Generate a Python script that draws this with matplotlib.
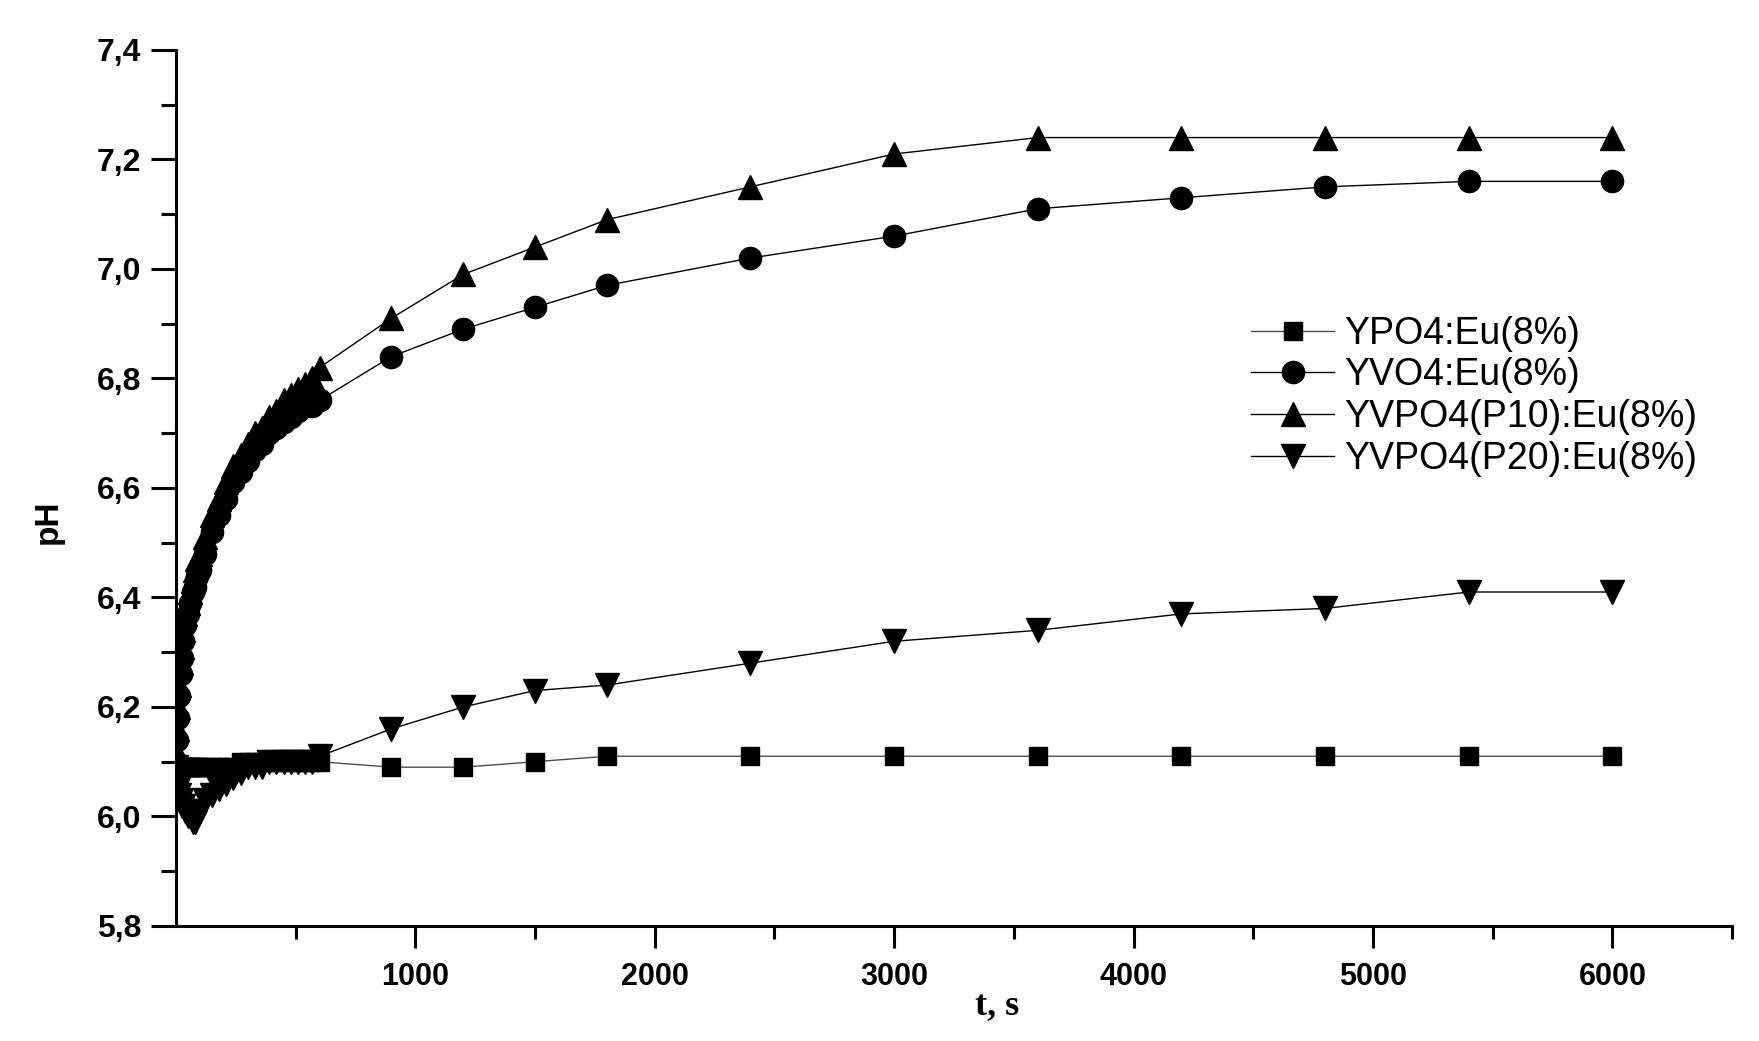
import numpy as np
import matplotlib
matplotlib.use('Agg')
import matplotlib.pyplot as plt
from matplotlib.ticker import MultipleLocator, FixedLocator, FuncFormatter

# time, s
t = [0, 5, 10, 15, 20, 25, 30, 40, 50, 60, 70, 80, 90, 100, 120, 150, 180,
     210, 240, 270, 300, 330, 360, 390, 420, 450, 480, 510, 540, 570, 600,
     900, 1200, 1500, 1800, 2400, 3000, 3600, 4200, 4800, 5400, 6000]

# pH values
ph_ypo4 = [6.08, 6.09, 6.09, 6.09, 6.09, 6.09, 6.09, 6.09, 6.09, 6.09, 6.09,
           6.09, 6.09, 6.09, 6.09, 6.09, 6.09, 6.09, 6.09, 6.10, 6.10, 6.10,
           6.10, 6.10, 6.10, 6.10, 6.10, 6.10, 6.10, 6.10, 6.10,
           6.09, 6.09, 6.10, 6.11, 6.11, 6.11, 6.11, 6.11, 6.11, 6.11, 6.11]
ph_yvo4 = [6.10, 6.14, 6.18, 6.22, 6.26, 6.29, 6.32, 6.35, 6.37, 6.39, 6.41,
           6.42, 6.44, 6.45, 6.48, 6.52, 6.55, 6.58, 6.61, 6.63, 6.65, 6.67,
           6.68, 6.70, 6.71, 6.72, 6.73, 6.74, 6.75, 6.75, 6.76,
           6.84, 6.89, 6.93, 6.97, 7.02, 7.06, 7.11, 7.13, 7.15, 7.16, 7.16]
ph_p10 = [6.12, 6.16, 6.20, 6.24, 6.28, 6.31, 6.34, 6.37, 6.39, 6.41, 6.43,
          6.45, 6.47, 6.48, 6.51, 6.55, 6.58, 6.61, 6.64, 6.66, 6.68, 6.70,
          6.71, 6.73, 6.74, 6.76, 6.77, 6.78, 6.79, 6.80, 6.82,
          6.91, 6.99, 7.04, 7.09, 7.15, 7.21, 7.24, 7.24, 7.24, 7.24, 7.24]
ph_p20 = [6.09, 6.07, 6.05, 6.04, 6.03, 6.02, 6.02, 6.01, 6.00, 6.00, 5.99,
          5.99, 6.00, 6.01, 6.03, 6.04, 6.05, 6.06, 6.07, 6.08, 6.09, 6.09,
          6.09, 6.10, 6.10, 6.10, 6.10, 6.10, 6.10, 6.10, 6.11,
          6.16, 6.20, 6.23, 6.24, 6.28, 6.32, 6.34, 6.37, 6.38, 6.41, 6.41]

labels = ['YPO4:Eu(8%)', 'YVO4:Eu(8%)', 'YVPO4(P10):Eu(8%)', 'YVPO4(P20):Eu(8%)']

fig = plt.figure(figsize=(17.59, 10.41), dpi=100)
ax = fig.add_axes([0.1, 0.1105, 0.8847, 0.8415])

ax.plot(t, ph_ypo4, color='0.3', lw=1.0, marker='s', ms=13, mfc='k', mec='k', label=labels[0])
ax.plot(t, ph_yvo4, color='k', lw=1.0, marker='o', ms=16, mfc='k', mec='k', label=labels[1])
ax.plot(t, ph_p10, color='k', lw=1.0, marker='^', ms=17, mfc='k', mec='k', label=labels[2])
ax.plot(t, ph_p20, color='k', lw=1.0, marker='v', ms=17, mfc='k', mec='k', label=labels[3])

ax.set_xlim(0, 6500)
ax.set_ylim(5.8, 7.4)

ax.spines['top'].set_visible(False)
ax.spines['right'].set_visible(False)
ax.spines['left'].set_linewidth(2.2)
ax.spines['bottom'].set_linewidth(2.2)

ax.xaxis.set_major_locator(FixedLocator([1000, 2000, 3000, 4000, 5000, 6000]))
ax.xaxis.set_minor_locator(FixedLocator([500, 1500, 2500, 3500, 4500, 5500, 6500]))
ax.yaxis.set_major_locator(MultipleLocator(0.2))
ax.yaxis.set_minor_locator(MultipleLocator(0.1))
ax.yaxis.set_major_formatter(FuncFormatter(lambda v, p: f'{v:.1f}'.replace('.', ',')))

ax.tick_params(axis='x', which='major', direction='out', length=16, width=2.2, pad=10)
ax.tick_params(axis='x', which='minor', direction='out', length=9, width=2.2)
ax.tick_params(axis='y', which='major', direction='out', length=18, width=2.2, pad=7)
ax.tick_params(axis='y', which='minor', direction='out', length=11, width=2.2)

for lab in ax.get_xticklabels():
    lab.set_fontfamily('Liberation Sans')
    lab.set_fontweight('bold')
    lab.set_fontsize(22)
for lab in ax.get_yticklabels():
    lab.set_fontfamily('Liberation Sans')
    lab.set_fontweight('bold')
    lab.set_fontsize(23)

ax.set_xlabel('t, s', fontfamily='Liberation Serif', fontweight='bold', fontsize=26)
ax.xaxis.set_label_coords(0.528, -0.073)
ax.set_ylabel('pH', fontfamily='Liberation Sans', fontweight='bold', fontsize=24)
ax.yaxis.set_label_coords(-0.072, 0.462)

leg = ax.legend(loc='upper left', bbox_to_anchor=(0.679, 0.718), frameon=False,
                prop={'family': 'Liberation Sans', 'size': 27}, handlelength=2.2,
                handletextpad=0.28, labelspacing=0.15, borderpad=0)

fig.savefig('out.png', dpi=100)
